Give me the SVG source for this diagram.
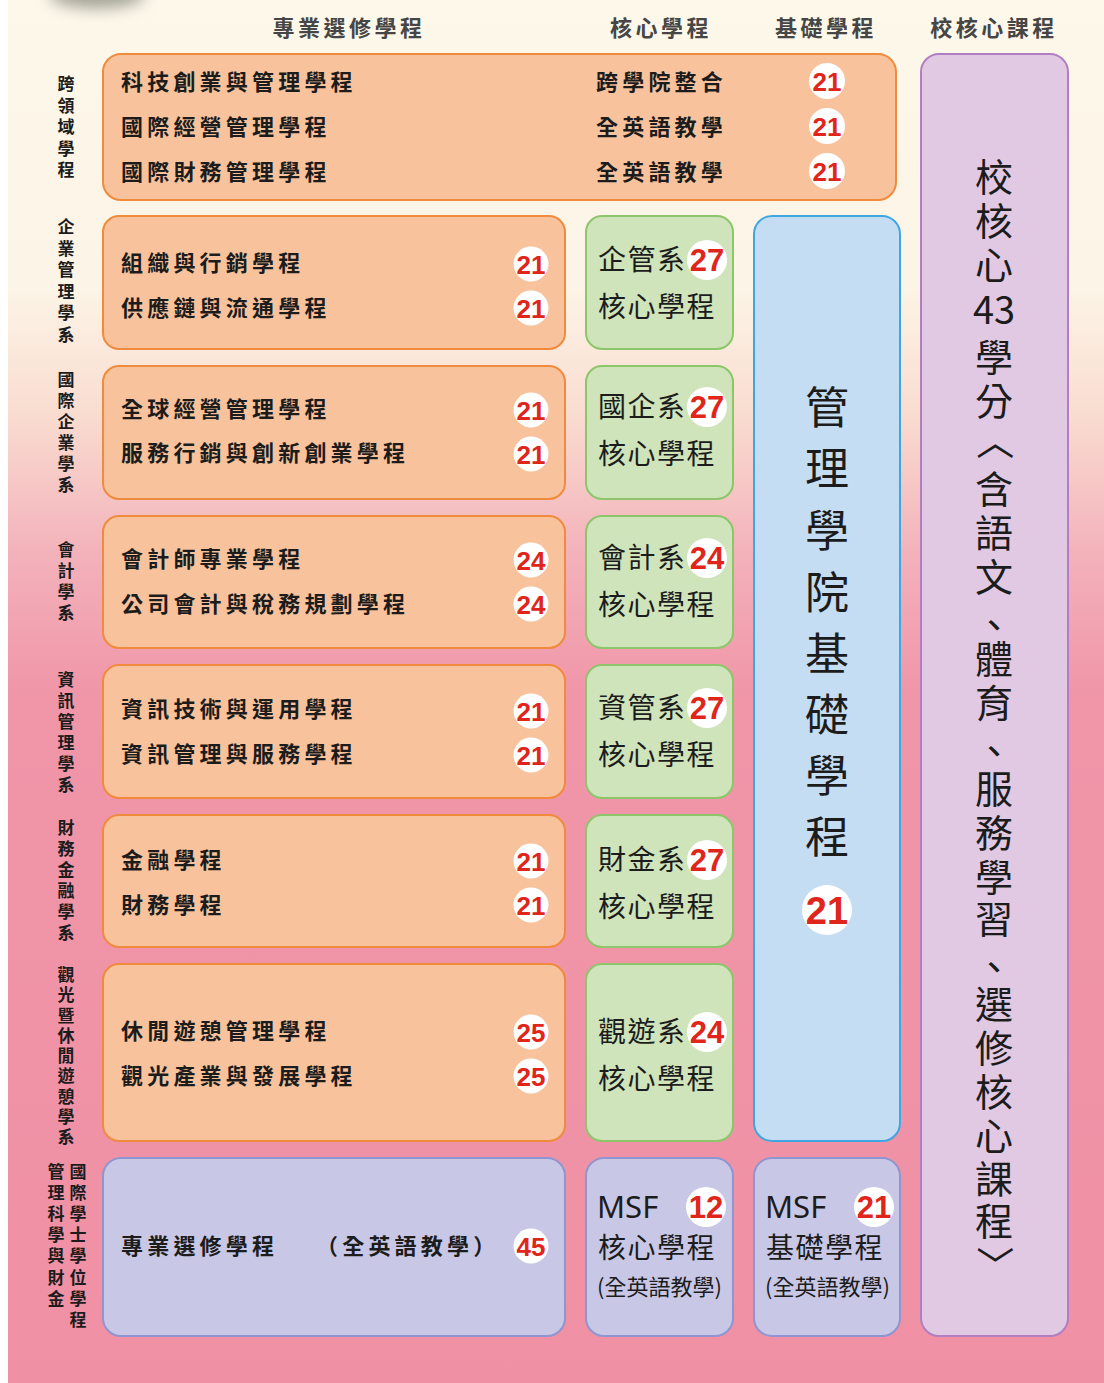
<svg xmlns="http://www.w3.org/2000/svg" width="1104" height="1383" viewBox="0 0 1104 1383">
<defs>
<linearGradient id="bg" x1="0" y1="0" x2="0" y2="1383" gradientUnits="userSpaceOnUse">
<stop offset="0" stop-color="#fdf8ea"/>
<stop offset="0.21" stop-color="#fcf4e6"/>
<stop offset="0.30" stop-color="#f9dcd0"/>
<stop offset="0.40" stop-color="#f3b2bb"/>
<stop offset="0.50" stop-color="#f096a9"/>
<stop offset="1" stop-color="#f090a5"/>
</linearGradient>
<filter id="blur" x="-50%" y="-100%" width="200%" height="300%"><feGaussianBlur stdDeviation="8"/></filter>
<style>
.t{font-family:"Noto Sans CJK TC","Noto Sans CJK SC",sans-serif;fill:#1c1c1c}
.hd{font-size:22px;fill:#464646;letter-spacing:3.5px;text-anchor:middle;font-weight:700}
.rt{font-size:22px;letter-spacing:4.2px;font-weight:700}
.lb{font-size:17px;text-anchor:middle;font-weight:700}
.gt{font-size:28px;letter-spacing:1.5px}
.bt{font-size:44px;text-anchor:middle}
.pt{font-size:38px;text-anchor:middle}
.orange{fill:#f8c39c;stroke:#f08a3c;stroke-width:2}
.green{fill:#cfe4ba;stroke:#8dc66a;stroke-width:2}
.blue{fill:#c5ddf2;stroke:#3ea6e0;stroke-width:2}
.purple{fill:#e1c9e3;stroke:#b27ec2;stroke-width:2}
.lav{fill:#c8c8e6;stroke:#8f95d0;stroke-width:2}
.bc{fill:#ffffff}
.bn{font-family:"Liberation Sans",Arial,sans-serif;font-weight:700;fill:#e0251b;text-anchor:middle;font-size:26px}
.bn2{font-size:31px}
.msf{font-family:"Noto Sans","Open Sans",sans-serif;font-size:31px;fill:#1c1c1c}
.sm{font-size:22px}
</style>
</defs>
<rect x="0" y="0" width="1104" height="1383" fill="#ffffff"/>
<rect x="8" y="0" width="1096" height="1383" fill="url(#bg)"/>
<ellipse cx="97" cy="-6" rx="48" ry="14" fill="#7a7a70" opacity="0.7" filter="url(#blur)"/>

<g id="headers" class="t">
<text class="t hd" x="349" y="36">專業選修學程</text>
<text class="t hd" x="661" y="36">核心學程</text>
<text class="t hd" x="826" y="36">基礎學程</text>
<text class="t hd" x="994" y="36">校核心課程</text>
</g>

<g id="labels" class="t">
<text class="t lb"><tspan x="66" y="90">跨</tspan><tspan x="66" y="112">領</tspan><tspan x="66" y="133">域</tspan><tspan x="66" y="155">學</tspan><tspan x="66" y="176">程</tspan></text>
<text class="t lb"><tspan x="66" y="233">企</tspan><tspan x="66" y="255">業</tspan><tspan x="66" y="276">管</tspan><tspan x="66" y="298">理</tspan><tspan x="66" y="319">學</tspan><tspan x="66" y="341">系</tspan></text>
<text class="t lb"><tspan x="66" y="386">國</tspan><tspan x="66" y="407">際</tspan><tspan x="66" y="428">企</tspan><tspan x="66" y="449">業</tspan><tspan x="66" y="470">學</tspan><tspan x="66" y="491">系</tspan></text>
<text class="t lb"><tspan x="66" y="556">會</tspan><tspan x="66" y="577">計</tspan><tspan x="66" y="598">學</tspan><tspan x="66" y="619">系</tspan></text>
<text class="t lb"><tspan x="66" y="686">資</tspan><tspan x="66" y="707">訊</tspan><tspan x="66" y="728">管</tspan><tspan x="66" y="749">理</tspan><tspan x="66" y="770">學</tspan><tspan x="66" y="791">系</tspan></text>
<text class="t lb"><tspan x="66" y="834">財</tspan><tspan x="66" y="855">務</tspan><tspan x="66" y="876">金</tspan><tspan x="66" y="897">融</tspan><tspan x="66" y="918">學</tspan><tspan x="66" y="939">系</tspan></text>
<text class="t lb"><tspan x="66" y="981">觀</tspan><tspan x="66" y="1001">光</tspan><tspan x="66" y="1022">暨</tspan><tspan x="66" y="1042">休</tspan><tspan x="66" y="1062">閒</tspan><tspan x="66" y="1082">遊</tspan><tspan x="66" y="1103">憩</tspan><tspan x="66" y="1123">學</tspan><tspan x="66" y="1143">系</tspan></text>
<text class="t lb"><tspan x="78" y="1178">國</tspan><tspan x="78" y="1199">際</tspan><tspan x="78" y="1220">學</tspan><tspan x="78" y="1241">士</tspan><tspan x="78" y="1262">學</tspan><tspan x="78" y="1284">位</tspan><tspan x="78" y="1305">學</tspan><tspan x="78" y="1326">程</tspan></text>
<text class="t lb"><tspan x="56" y="1178">管</tspan><tspan x="56" y="1199">理</tspan><tspan x="56" y="1220">科</tspan><tspan x="56" y="1241">學</tspan><tspan x="56" y="1262">與</tspan><tspan x="56" y="1284">財</tspan><tspan x="56" y="1305">金</tspan></text>
</g>

<g id="cross-domain">
<rect class="orange" x="103" y="54" width="793" height="146" rx="18"/>
<text class="t rt" x="121" y="90">科技創業與管理學程</text>
<text class="t rt" x="121" y="135">國際經營管理學程</text>
<text class="t rt" x="121" y="180">國際財務管理學程</text>
<text class="t rt" x="596" y="90">跨學院整合</text>
<text class="t rt" x="596" y="135">全英語教學</text>
<text class="t rt" x="596" y="180">全英語教學</text>
<circle class="bc" cx="827" cy="81" r="18"/><text class="bn" x="827" y="90.5">21</text>
<circle class="bc" cx="827" cy="126" r="18"/><text class="bn" x="827" y="135.5">21</text>
<circle class="bc" cx="827" cy="171" r="18"/><text class="bn" x="827" y="180.5">21</text>
</g>

<g id="ba-electives">
<rect class="orange" x="103" y="216" width="462" height="133" rx="16"/>
<text class="t rt" x="121" y="271">組織與行銷學程</text>
<text class="t rt" x="121" y="316">供應鏈與流通學程</text>
<circle class="bc" cx="531" cy="264" r="17.5"/><text class="bn" x="531" y="273.5">21</text>
<circle class="bc" cx="531" cy="308" r="17.5"/><text class="bn" x="531" y="317.5">21</text>
</g>
<g id="ba-core">
<rect class="green" x="586" y="216" width="147" height="133" rx="16"/>
<text class="t gt" x="598" y="270">企管系</text>
<text class="t gt" x="598" y="317">核心學程</text>
<circle class="bc" cx="707" cy="260" r="20"/><text class="bn bn2" x="707" y="271">27</text>
</g>

<g id="ib-electives">
<rect class="orange" x="103" y="366" width="462" height="133" rx="16"/>
<text class="t rt" x="121" y="417">全球經營管理學程</text>
<text class="t rt" x="121" y="461">服務行銷與創新創業學程</text>
<circle class="bc" cx="531" cy="410" r="17.5"/><text class="bn" x="531" y="419.5">21</text>
<circle class="bc" cx="531" cy="454" r="17.5"/><text class="bn" x="531" y="463.5">21</text>
</g>
<g id="ib-core">
<rect class="green" x="586" y="366" width="147" height="133" rx="16"/>
<text class="t gt" x="598" y="417">國企系</text>
<text class="t gt" x="598" y="464">核心學程</text>
<circle class="bc" cx="707" cy="407" r="20"/><text class="bn bn2" x="707" y="418">27</text>
</g>

<g id="acc-electives">
<rect class="orange" x="103" y="516" width="462" height="132" rx="16"/>
<text class="t rt" x="121" y="567">會計師專業學程</text>
<text class="t rt" x="121" y="612">公司會計與稅務規劃學程</text>
<circle class="bc" cx="531" cy="560" r="17.5"/><text class="bn" x="531" y="569.5">24</text>
<circle class="bc" cx="531" cy="604" r="17.5"/><text class="bn" x="531" y="613.5">24</text>
</g>
<g id="acc-core">
<rect class="green" x="586" y="516" width="147" height="132" rx="16"/>
<text class="t gt" x="598" y="568">會計系</text>
<text class="t gt" x="598" y="615">核心學程</text>
<circle class="bc" cx="707" cy="558" r="20"/><text class="bn bn2" x="707" y="569">24</text>
</g>

<g id="im-electives">
<rect class="orange" x="103" y="665" width="462" height="133" rx="16"/>
<text class="t rt" x="121" y="717">資訊技術與運用學程</text>
<text class="t rt" x="121" y="762">資訊管理與服務學程</text>
<circle class="bc" cx="531" cy="711" r="17.5"/><text class="bn" x="531" y="720.5">21</text>
<circle class="bc" cx="531" cy="755" r="17.5"/><text class="bn" x="531" y="764.5">21</text>
</g>
<g id="im-core">
<rect class="green" x="586" y="665" width="147" height="133" rx="16"/>
<text class="t gt" x="598" y="718">資管系</text>
<text class="t gt" x="598" y="765">核心學程</text>
<circle class="bc" cx="707" cy="708" r="20"/><text class="bn bn2" x="707" y="719">27</text>
</g>

<g id="fin-electives">
<rect class="orange" x="103" y="815" width="462" height="132" rx="16"/>
<text class="t rt" x="121" y="868">金融學程</text>
<text class="t rt" x="121" y="913">財務學程</text>
<circle class="bc" cx="531" cy="861" r="17.5"/><text class="bn" x="531" y="870.5">21</text>
<circle class="bc" cx="531" cy="905" r="17.5"/><text class="bn" x="531" y="914.5">21</text>
</g>
<g id="fin-core">
<rect class="green" x="586" y="815" width="147" height="132" rx="16"/>
<text class="t gt" x="598" y="870">財金系</text>
<text class="t gt" x="598" y="917">核心學程</text>
<circle class="bc" cx="707" cy="860" r="20"/><text class="bn bn2" x="707" y="871">27</text>
</g>

<g id="tour-electives">
<rect class="orange" x="103" y="964" width="462" height="177" rx="16"/>
<text class="t rt" x="121" y="1039">休閒遊憩管理學程</text>
<text class="t rt" x="121" y="1084">觀光產業與發展學程</text>
<circle class="bc" cx="531" cy="1032" r="17.5"/><text class="bn" x="531" y="1041.5">25</text>
<circle class="bc" cx="531" cy="1076" r="17.5"/><text class="bn" x="531" y="1085.5">25</text>
</g>
<g id="tour-core">
<rect class="green" x="586" y="964" width="147" height="177" rx="16"/>
<text class="t gt" x="598" y="1042">觀遊系</text>
<text class="t gt" x="598" y="1089">核心學程</text>
<circle class="bc" cx="707" cy="1032" r="20"/><text class="bn bn2" x="707" y="1043">24</text>
</g>

<g id="college-foundation">
<rect class="blue" x="754" y="216" width="146" height="925" rx="18"/>
<text class="t bt"><tspan x="827" y="424">管</tspan><tspan x="827" y="485">理</tspan><tspan x="827" y="547">學</tspan><tspan x="827" y="609">院</tspan><tspan x="827" y="670">基</tspan><tspan x="827" y="731">礎</tspan><tspan x="827" y="792">學</tspan><tspan x="827" y="853">程</tspan></text>
<circle class="bc" cx="827" cy="910" r="25"/><text class="bn" style="font-size:38px" x="827" y="924">21</text>
</g>

<g id="university-core">
<rect class="purple" x="921" y="54" width="147" height="1282" rx="18"/>
<text class="t pt"><tspan x="994" y="191">校</tspan><tspan x="994" y="235">核</tspan><tspan x="994" y="279">心</tspan><tspan x="994" y="324">43</tspan><tspan x="994" y="371">學</tspan><tspan x="994" y="415">分</tspan><tspan x="994" y="503">含</tspan><tspan x="994" y="547">語</tspan><tspan x="994" y="591">文</tspan><tspan x="994" y="639">、</tspan><tspan x="994" y="673">體</tspan><tspan x="994" y="717">育</tspan><tspan x="994" y="765">、</tspan><tspan x="994" y="803">服</tspan><tspan x="994" y="847">務</tspan><tspan x="994" y="891">學</tspan><tspan x="994" y="933">習</tspan><tspan x="994" y="981">、</tspan><tspan x="994" y="1018">選</tspan><tspan x="994" y="1062">修</tspan><tspan x="994" y="1106">核</tspan><tspan x="994" y="1150">心</tspan><tspan x="994" y="1193">課</tspan><tspan x="994" y="1235">程</tspan></text>
<text class="t pt" x="994" y="454" transform="rotate(90 994 441)">〈</text>
<text class="t pt" x="994" y="1278" transform="rotate(90 994 1265)">〉</text>
</g>

<g id="msf-electives">
<rect class="lav" x="103" y="1158" width="462" height="178" rx="18"/>
<text class="t rt" x="121" y="1254">專業選修學程</text>
<text class="t rt" x="316" y="1254">（全英語教學）</text>
<circle class="bc" cx="531" cy="1246" r="17.5"/><text class="bn" x="531" y="1255.5">45</text>
</g>
<g id="msf-core">
<rect class="lav" x="586" y="1158" width="147" height="178" rx="18"/>
<text class="msf" x="597" y="1218">MSF</text>
<circle class="bc" cx="706" cy="1207" r="20"/><text class="bn bn2" x="706" y="1218">12</text>
<text class="t gt" x="598" y="1258">核心學程</text>
<text class="t sm" x="597" y="1295">(全英語教學)</text>
</g>
<g id="msf-foundation">
<rect class="lav" x="754" y="1158" width="146" height="178" rx="18"/>
<text class="msf" x="765" y="1218">MSF</text>
<circle class="bc" cx="874" cy="1207" r="20"/><text class="bn bn2" x="874" y="1218">21</text>
<text class="t gt" x="766" y="1258">基礎學程</text>
<text class="t sm" x="765" y="1295">(全英語教學)</text>
</g>

<g id="connectors"></g>
</svg>
